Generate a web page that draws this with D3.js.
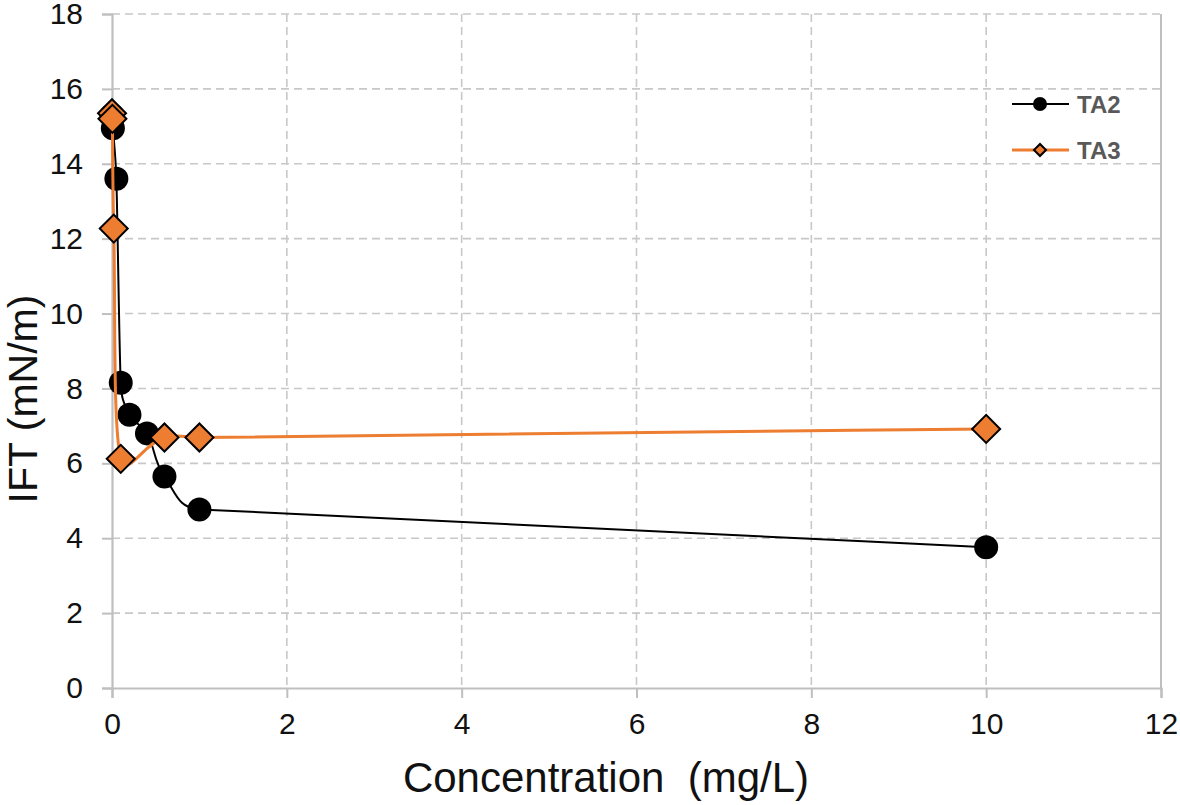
<!DOCTYPE html>
<html>
<head>
<meta charset="utf-8">
<script src="https://cdn.jsdelivr.net/npm/d3@7"></script>
<style>
  html, body { margin: 0; padding: 0; background: #ffffff; }
  svg { display: block; font-family: "Liberation Sans", Arial, sans-serif; }
</style>
</head>
<body>
<svg id="chart" width="1180" height="805"></svg>
<script>
// ---- data ----
const seriesNames = ["TA2", "TA3"];
const ta2X = [0, 0.01, 0.05, 0.1, 0.2, 0.4, 0.6, 1, 10];
const ta2Y = [15.3, 14.95, 13.6, 8.15, 7.3, 6.8, 5.65, 4.77, 3.76];
const ta3X = [0, 0.005, 0.02, 0.1, 0.6, 1, 10];
const ta3Y = [15.35, 15.2, 12.27, 6.12, 6.69, 6.69, 6.92];
const xTicks = [0, 2, 4, 6, 8, 10, 12];
const yTicks = [0, 2, 4, 6, 8, 10, 12, 14, 16, 18];
const xTitle = "Concentration  (mg/L)";
const yTitle = "IFT (mN/m)";

// Smooth curve (spreadsheet-style smoothing): Bezier segments whose tangent
// follows the neighbours, with handle lengths limited by the adjacent chords.
function smoothCurve(context) {
  let pts = [];
  return {
    areaStart() {}, areaEnd() {},
    lineStart() { pts = []; },
    point(px, py) { pts.push([+px, +py]); },
    lineEnd() {
      const n = pts.length;
      if (!n) return;
      context.moveTo(pts[0][0], pts[0][1]);
      if (n === 1) return;
      const dist = (a, b) => Math.hypot(b[0] - a[0], b[1] - a[1]);
      const hOut = [], hIn = [];
      pts.forEach((p, i) => {
        const a = pts[Math.max(0, i - 1)], b = pts[Math.min(n - 1, i + 1)];
        const dx = b[0] - a[0], dy = b[1] - a[1], L = Math.hypot(dx, dy) || 1;
        const dp = i > 0 ? dist(pts[i - 1], p) : Infinity;
        const dn = i < n - 1 ? dist(p, pts[i + 1]) : Infinity;
        const mOut = Math.min(dn * 0.45, dp * 0.7);
        const mIn = Math.min(dp * 0.45, dn * 0.7);
        hOut.push([dx / L * (isFinite(mOut) ? mOut : 0), dy / L * (isFinite(mOut) ? mOut : 0)]);
        hIn.push([dx / L * (isFinite(mIn) ? mIn : 0), dy / L * (isFinite(mIn) ? mIn : 0)]);
      });
      for (let i = 0; i < n - 1; i++) {
        const p0 = pts[i], p1 = pts[i + 1];
        context.bezierCurveTo(p0[0] + hOut[i][0], p0[1] + hOut[i][1],
          p1[0] - hIn[i + 1][0], p1[1] - hIn[i + 1][1], p1[0], p1[1]);
      }
    }
  };
}

(function () {
const svg = d3.select("#chart");
const pL = 112, pR = 1161, pT = 14, pB = 688;
const x = d3.scaleLinear().domain([0, 12]).range([pL, pR]);
const y = d3.scaleLinear().domain([0, 18]).range([pB, pT]);

const gridColor = "#c8c8c8", axisColor = "#bfbfbf";

// grid
const grid = svg.append("g");
grid.selectAll("line.h").data(yTicks.filter(d => d > 0)).enter().append("line")
  .attr("x1", pL).attr("x2", pR).attr("y1", d => y(d)).attr("y2", d => y(d))
  .attr("stroke", gridColor).attr("stroke-width", 1.6).attr("stroke-dasharray", "8,5");
grid.selectAll("line.v").data(xTicks.filter(d => d > 0 && d < 12)).enter().append("line")
  .attr("y1", pT).attr("y2", pB).attr("x1", d => x(d)).attr("x2", d => x(d))
  .attr("stroke", gridColor).attr("stroke-width", 1.6).attr("stroke-dasharray", "8,5");
svg.append("line").attr("x1", x(12)).attr("x2", x(12)).attr("y1", pT).attr("y2", pB)
  .attr("stroke", axisColor).attr("stroke-width", 2);

// axes
const xAxis = svg.append("g").attr("transform", `translate(0,${pB})`)
  .call(d3.axisBottom(x).tickValues(xTicks).tickSize(10).tickPadding(15).tickFormat(d3.format("d")));
const yAxis = svg.append("g").attr("transform", `translate(${pL},0)`)
  .call(d3.axisLeft(y).tickValues(yTicks).tickSize(10).tickPadding(19).tickFormat(d3.format("d")));
[xAxis, yAxis].forEach(a => {
  a.select(".domain").attr("stroke", axisColor).attr("stroke-width", 2.2);
  a.selectAll(".tick line").attr("stroke", axisColor).attr("stroke-width", 2);
  a.selectAll(".tick text").attr("fill", "#111").style("font-size", "30px")
    .style("font-family", "'Liberation Sans', Arial, sans-serif");
});

// titles
svg.append("text").attr("x", 606).attr("y", 792)
  .attr("text-anchor", "middle").attr("fill", "#111").style("font-size", "42px")
  .style("white-space", "pre").attr("xml:space", "preserve")
  .text(xTitle);
svg.append("text").attr("transform", `translate(37,${(pT + pB) / 2 + 48}) rotate(-90)`)
  .attr("text-anchor", "middle").attr("fill", "#111").style("font-size", "41px")
  .text(yTitle);

// lines
const ta2 = ta2X.map((v, i) => [v, ta2Y[i]]);
const ta3 = ta3X.map((v, i) => [v, ta3Y[i]]);
const line = d3.line().x(d => x(d[0])).y(d => y(d[1])).curve(smoothCurve);

svg.append("path").datum(ta2).attr("d", line).attr("fill", "none")
  .attr("stroke", "#000").attr("stroke-width", 2);
svg.selectAll("circle.ta2").data(ta2).enter().append("circle")
  .attr("cx", d => x(d[0])).attr("cy", d => y(d[1])).attr("r", 12).attr("fill", "#000");

svg.append("path").datum(ta3).attr("d", line).attr("fill", "none")
  .attr("stroke", "#ED7D31").attr("stroke-width", 3);
svg.selectAll("path.ta3").data(ta3).enter().append("path")
  .attr("d", d3.symbol().type(d3.symbolSquare).size(392)())
  .attr("transform", d => `translate(${x(d[0])},${y(d[1])}) rotate(45)`)
  .attr("fill", "#ED7D31").attr("stroke", "#000").attr("stroke-width", 2);

// legend
const leg = svg.append("g");
const legY = [104, 150];
leg.append("line").attr("x1", 1012).attr("x2", 1069).attr("y1", legY[0]).attr("y2", legY[0])
  .attr("stroke", "#000").attr("stroke-width", 2);
leg.append("circle").attr("cx", 1040).attr("cy", legY[0]).attr("r", 7).attr("fill", "#000");
leg.append("line").attr("x1", 1012).attr("x2", 1069).attr("y1", legY[1]).attr("y2", legY[1])
  .attr("stroke", "#ED7D31").attr("stroke-width", 3);
leg.append("path").attr("d", d3.symbol().type(d3.symbolSquare).size(72)())
  .attr("transform", `translate(1040,${legY[1]}) rotate(45)`)
  .attr("fill", "#ED7D31").attr("stroke", "#000").attr("stroke-width", 2);
leg.selectAll("text").data(seriesNames).enter().append("text")
  .attr("x", 1077).attr("y", (d, i) => legY[i] + 9)
  .attr("fill", "#595959").style("font-size", "24px").style("font-weight", "bold")
  .text(d => d);
})();
</script>
</body>
</html>
